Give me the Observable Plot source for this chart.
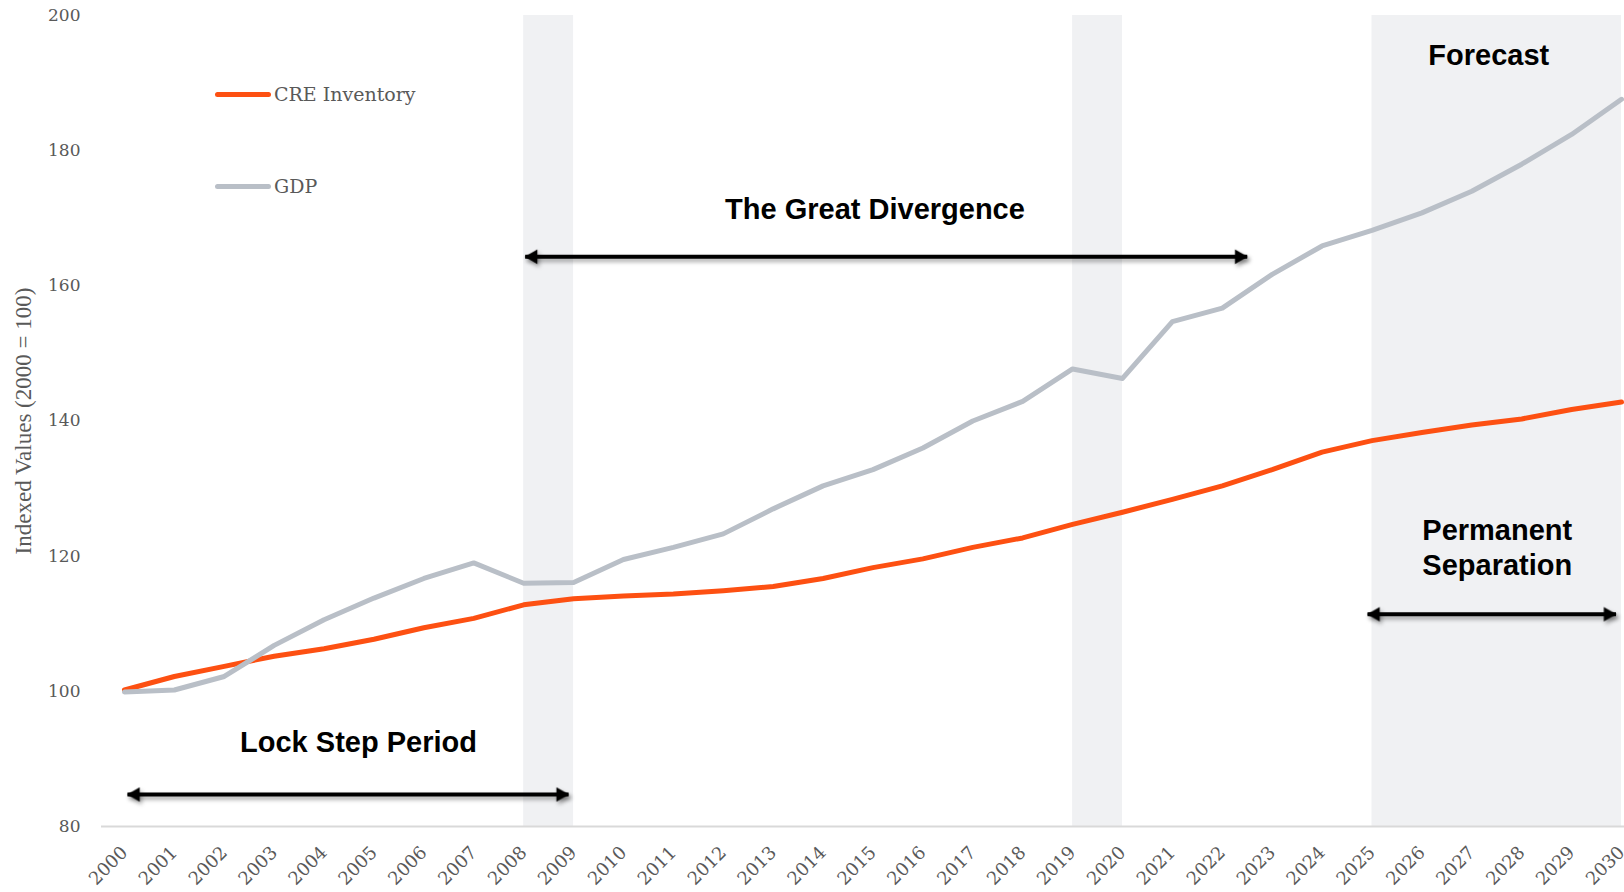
<!DOCTYPE html>
<html><head><meta charset="utf-8">
<script src="https://cdn.jsdelivr.net/npm/d3@7"></script>
<script src="https://cdn.jsdelivr.net/npm/@observablehq/plot@0.6"></script>
<style>
html,body{margin:0;padding:0;background:#fff;overflow:hidden;}
#wrap{position:relative;width:1624px;height:892px;}
.legend{position:absolute;left:215px;display:flex;align-items:center;font-family:"DejaVu Serif",serif;font-size:19px;color:#595959;height:22px;margin-top:-11px;}
.legend .sw{width:56px;height:5px;border-radius:3px;margin-right:3px;}
</style></head><body><div id="wrap"></div>
<script>
const years = [2000,2001,2002,2003,2004,2005,2006,2007,2008,2009,2010,2011,2012,2013,2014,2015,2016,2017,2018,2019,2020,2021,2022,2023,2024,2025,2026,2027,2028,2029,2030];
const creInventory = [100.2,102.2,103.7,105.2,106.3,107.7,109.4,110.8,112.8,113.7,114.1,114.4,114.9,115.5,116.7,118.3,119.6,121.3,122.7,124.7,126.5,128.4,130.4,132.8,135.4,137.1,138.3,139.4,140.3,141.7,142.8];
const gdp = [99.9,100.2,102.2,106.8,110.6,113.8,116.7,119.0,116.0,116.1,119.5,121.3,123.3,127.0,130.4,132.8,136.0,140.0,142.9,147.7,146.3,154.7,156.7,161.7,165.9,168.2,170.8,174.0,178.0,182.4,187.6];
const seriesNames = ["CRE Inventory","GDP"];
const seriesColors = ["#fd5012","#b9bfc7"];
const yTicks = [80,100,120,140,160,180,200];
const shadedPeriods = [{start:2008,end:2009},{start:2019,end:2020},{start:2025,end:2030}];
const annotationLabels = [
  {text:"The Great Divergence", x:2015.04, y:171.6},
  {text:"Lock Step Period", x:2004.69, y:92.6},
  {text:"Forecast", x:2027.34, y:194.3},
  {text:"Permanent\nSeparation", x:2027.51, y:121.5}
];
const annotationArrows = [
  {x1:2008.03, x2:2022.5, y:164.3},
  {x1:2000.06, x2:2008.9, y:84.74},
  {x1:2024.91, x2:2029.89, y:111.4}
];

const rows = [];
seriesNames.forEach((s, si) => {
  const vals = si === 0 ? creInventory : gdp;
  years.forEach((yr, i) => rows.push({series: s, year: yr, value: vals[i]}));
});
const heads = [];
annotationArrows.forEach(a => {
  heads.push({x: a.x1, y: a.y, dir: -90, dx: 8});
  heads.push({x: a.x2, y: a.y, dir: 90, dx: -8});
});

const plot = Plot.plot({
  width: 1624,
  height: 892,
  marginLeft: 101,
  marginRight: 0,
  marginTop: 15,
  marginBottom: 66,
  style: {background: "#fff", overflow: "visible"},
  x: {domain: [1999.54, 2030.06]},
  y: {domain: [80, 200]},
  color: {domain: seriesNames, range: seriesColors},
  marks: [
    Plot.rect(shadedPeriods, {x1: "start", x2: "end", fill: "#f0f1f3"}),
    Plot.ruleY([80], {stroke: "#d9d9d9", strokeWidth: 2}),
    Plot.axisY({ticks: yTicks, tickSize: 0, tickPadding: 21, label: null,
      fontFamily: "DejaVu Serif", fontSize: 17, fill: "#595959", style: "letter-spacing:1.5px"}),
    Plot.axisX({ticks: years, tickFormat: d => String(d), tickSize: 0, tickPadding: 23, tickRotate: -45, label: null,
      fontFamily: "DejaVu Serif", fontSize: 18, fill: "#595959", style: "letter-spacing:2px"}),
    Plot.text(["Indexed Values (2000 = 100)"], {frameAnchor: "left", textAnchor: "middle", rotate: -90, dx: -78,
      fontFamily: "Liberation Serif", fontSize: 23, fill: "#595959"}),
    Plot.line(rows, {x: "year", y: "value", z: "series", stroke: "series", strokeWidth: 5,
      strokeLinejoin: "round", strokeLinecap: "round"}),
    Plot.link(annotationArrows, {x1: "x1", x2: "x2", y1: "y", y2: "y", stroke: "#000", strokeWidth: 4}),
    Plot.dot(heads, {x: "x", y: "y", symbol: "triangle2", rotate: "dir", r: 7, fill: "#000"}),
    Plot.text(annotationLabels, {x: "x", y: "y", text: "text", fontFamily: "Liberation Sans",
      fontWeight: "bold", fontSize: 29, fill: "#000", lineHeight: 1.2})
  ]
});
document.getElementById("wrap").appendChild(plot);
// offset arrowheads so their tips sit at the arrow ends
d3.select(plot).selectAll('g[aria-label="dot"] path').each(function(_, i) {
  const h = heads[i];
  const t = d3.select(this).attr("transform");
  d3.select(this).attr("transform", `translate(${h.dx},0) ` + t);
});
d3.select(plot).selectAll('g[aria-label="link"], g[aria-label="dot"]')
  .style("filter", "drop-shadow(2px 3px 2px rgba(0,0,0,0.35))");

const legendTops = [94, 186];
seriesNames.forEach((s, i) => {
  const div = document.createElement("div");
  div.className = "legend";
  div.style.top = legendTops[i] + "px";
  div.innerHTML = `<div class="sw" style="background:${seriesColors[i]}"></div><span>${s}</span>`;
  document.getElementById("wrap").appendChild(div);
});
</script></body></html>
